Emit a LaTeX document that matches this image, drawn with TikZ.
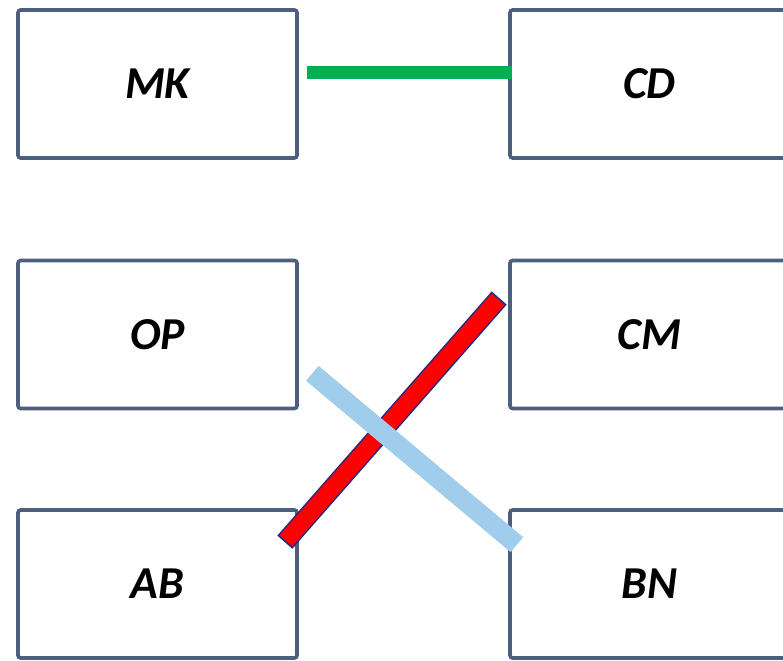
\documentclass[tikz,border=0pt]{standalone}
\usepackage{fontspec}
\setmainfont{Carlito}
\usepackage{xcolor}
\usetikzlibrary{positioning, calc}

\definecolor{boxline}{RGB}{78,94,125}
\definecolor{linkgreen}{RGB}{0,176,80}
\definecolor{linkred}{RGB}{255,0,0}
\definecolor{linknavy}{RGB}{40,40,130}
\definecolor{linkblue}{RGB}{160,205,235}

\tikzset{
  pairbox/.style={rectangle, draw=boxline, line width=2.1pt, fill=white, rounded corners=1.5pt,
    minimum width=5.58cm, minimum height=2.96cm, inner sep=0pt, text depth=0pt,
    font=\fontsize{26}{30}\selectfont\bfseries\itshape},
  greenlink/.style={linkgreen, line width=0.26cm},
}

\begin{document}
\begin{tikzpicture}[x=0.02cm, y=-0.02cm]
\useasboundingbox (0,0) rectangle (783,661);
% left column
\node[pairbox] (MK) at (157.5,84) {MK};
\node[pairbox] (OP) at (157.5,334.5) {OP};
\node[pairbox] (AB) at (157.5,584) {AB};
% right column
\node[pairbox] (CD) at (649.5,84) {CD};
\node[pairbox] (CM) at (649.5,334.5) {CM};
\node[pairbox] (BN) at (649.5,584) {BN};

% links
\draw[greenlink] ($(MK.east)+(8,-11)$) -- ($(CD.west)+(4,-11)$);
\draw[linknavy, line width=0.4cm] ($(AB.north east)+(-14,34)$) -- ($(CM.west)+(-9,-36.5)$);
\draw[linkred, line width=0.34cm, shorten >=0.035cm, shorten <=0.035cm] ($(AB.north east)+(-14,34)$) -- ($(CM.west)+(-9,-36.5)$);
\draw[linkblue, line width=0.39cm] ($(OP.south east)+(13.5,-37)$) -- ($(BN.north west)+(8.7,36.5)$);
\end{tikzpicture}
\end{document}
